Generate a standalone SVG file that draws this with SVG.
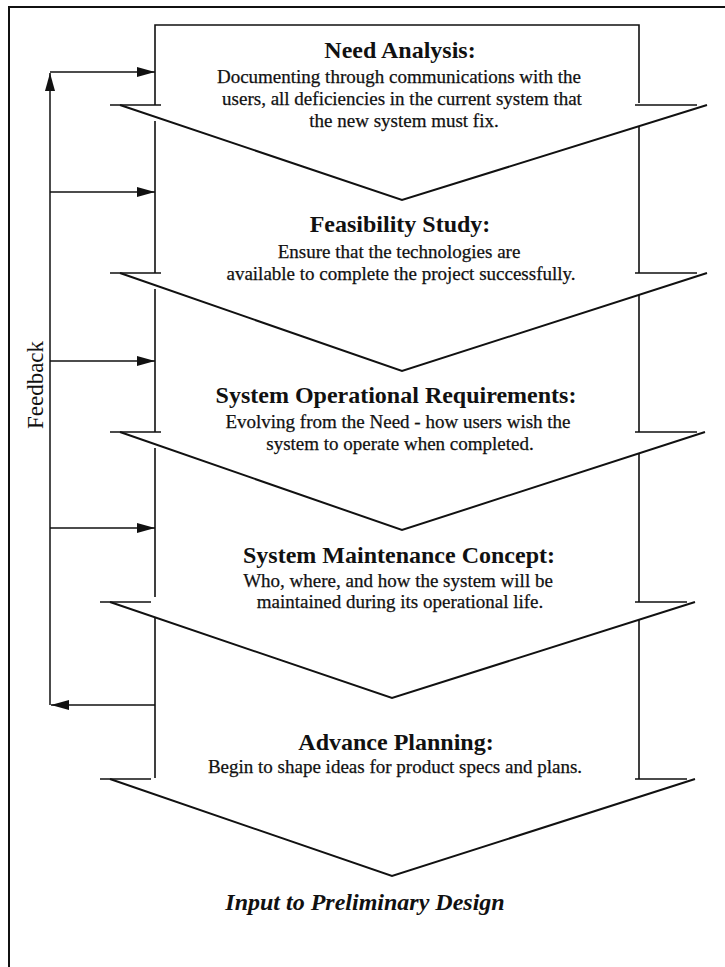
<svg xmlns="http://www.w3.org/2000/svg" width="725" height="967" viewBox="0 0 725 967">
  <style>
    .frame { fill: none; stroke: #111; stroke-width: 2; }
    .edge { fill: none; stroke: #111; stroke-width: 1.6; }
    .chev { fill: none; stroke: #111; stroke-width: 2; stroke-linejoin: miter; }
    .link { fill: none; stroke: #111; stroke-width: 1.5; }
    .title { font-family: "Liberation Serif", "Times New Roman", serif; font-weight: bold; font-size: 24px; fill: #111; text-anchor: middle; }
    .body { font-family: "Liberation Serif", "Times New Roman", serif; font-size: 19px; fill: #111; text-anchor: middle; stroke: #111; stroke-width: 0.25; }
    .note { font-family: "Liberation Serif", "Times New Roman", serif; font-weight: bold; font-style: italic; font-size: 24px; fill: #111; text-anchor: middle; }
    .side { font-family: "Liberation Serif", "Times New Roman", serif; font-size: 23px; fill: #111; text-anchor: middle; }
  </style>
  <defs>
    <marker id="head" markerUnits="userSpaceOnUse" markerWidth="19" markerHeight="12" refX="18" refY="5" orient="auto">
      <path d="M0,0 L18,5 L0,10 z" fill="#111"/>
    </marker>
  </defs>

  <rect width="725" height="967" fill="#ffffff"/>

  <!-- page frame (top and left edges) -->
  <path class="frame" d="M9,967 L9,7 L725,7"/>

  <!-- stage 1 -->
  <g id="need-analysis">
    <path class="edge" d="M155,105 L155,25 L639,25 L639,103"/>
    <path class="edge" d="M110,105 L161,105 M635,105 L697,105"/>
    <path class="chev" d="M120,105 L402,200 L707,105"/>
    <text class="title" x="400" y="58">Need Analysis:</text>
    <text class="body" x="399" y="83">Documenting through communications with the</text>
    <text class="body" x="402" y="105">users, all deficiencies in the current system that</text>
    <text class="body" x="404" y="127">the new system must fix.</text>
  </g>

  <!-- stage 2 -->
  <g id="feasibility-study">
    <path class="edge" d="M155,121 L155,273 M639,126 L639,273"/>
    <path class="edge" d="M110,273 L161,273 M635,273 L697,273"/>
    <path class="chev" d="M120,273 L402,371 L707,273"/>
    <text class="title" x="400" y="232">Feasibility Study:</text>
    <text class="body" x="399" y="258">Ensure that the technologies are</text>
    <text class="body" x="401" y="280">available to complete the project successfully.</text>
  </g>

  <!-- stage 3 -->
  <g id="operational-requirements">
    <path class="edge" d="M155,289 L155,432 M639,295 L639,432"/>
    <path class="edge" d="M110,432 L161,432 M635,432 L697,432"/>
    <path class="chev" d="M120,432 L402,530 L705,432"/>
    <text class="title" x="396" y="403">System Operational Requirements:</text>
    <text class="body" x="398" y="428">Evolving from the Need - how users wish the</text>
    <text class="body" x="400" y="450">system to operate when completed.</text>
  </g>

  <!-- stage 4 -->
  <g id="maintenance-concept">
    <path class="edge" d="M155,448 L155,597 M639,453 L639,602"/>
    <path class="edge" d="M100,602 L151,602 M635,602 L687,602"/>
    <path class="chev" d="M110,602 L392,698 L695,602"/>
    <text class="title" x="399" y="563">System Maintenance Concept:</text>
    <text class="body" x="398" y="587">Who, where, and how the system will be</text>
    <text class="body" x="400" y="608">maintained during its operational life.</text>
  </g>

  <!-- stage 5 -->
  <g id="advance-planning">
    <path class="edge" d="M155,617 L155,778 M639,620 L639,779"/>
    <path class="edge" d="M100,779 L151,779 M635,779 L687,779"/>
    <path class="chev" d="M110,779 L392,876 L695,779"/>
    <text class="title" x="396" y="750">Advance Planning:</text>
    <text class="body" x="395" y="773">Begin to shape ideas for product specs and plans.</text>
  </g>

  <!-- outcome label -->
  <g id="output">
    <text class="note" x="365" y="910">Input to Preliminary Design</text>
  </g>

  <!-- feedback loop -->
  <g id="connectors">
    <path class="link" d="M50,705 L50,73" marker-end="url(#head)"/>
    <path class="link" d="M50,72 L155,72" marker-end="url(#head)"/>
    <path class="link" d="M50,192 L155,192" marker-end="url(#head)"/>
    <path class="link" d="M50,361 L155,361" marker-end="url(#head)"/>
    <path class="link" d="M50,528 L155,528" marker-end="url(#head)"/>
    <path class="link" d="M155,705 L51,705" marker-end="url(#head)"/>
    <text class="side" transform="translate(43,385) rotate(-90)">Feedback</text>
  </g>
</svg>
